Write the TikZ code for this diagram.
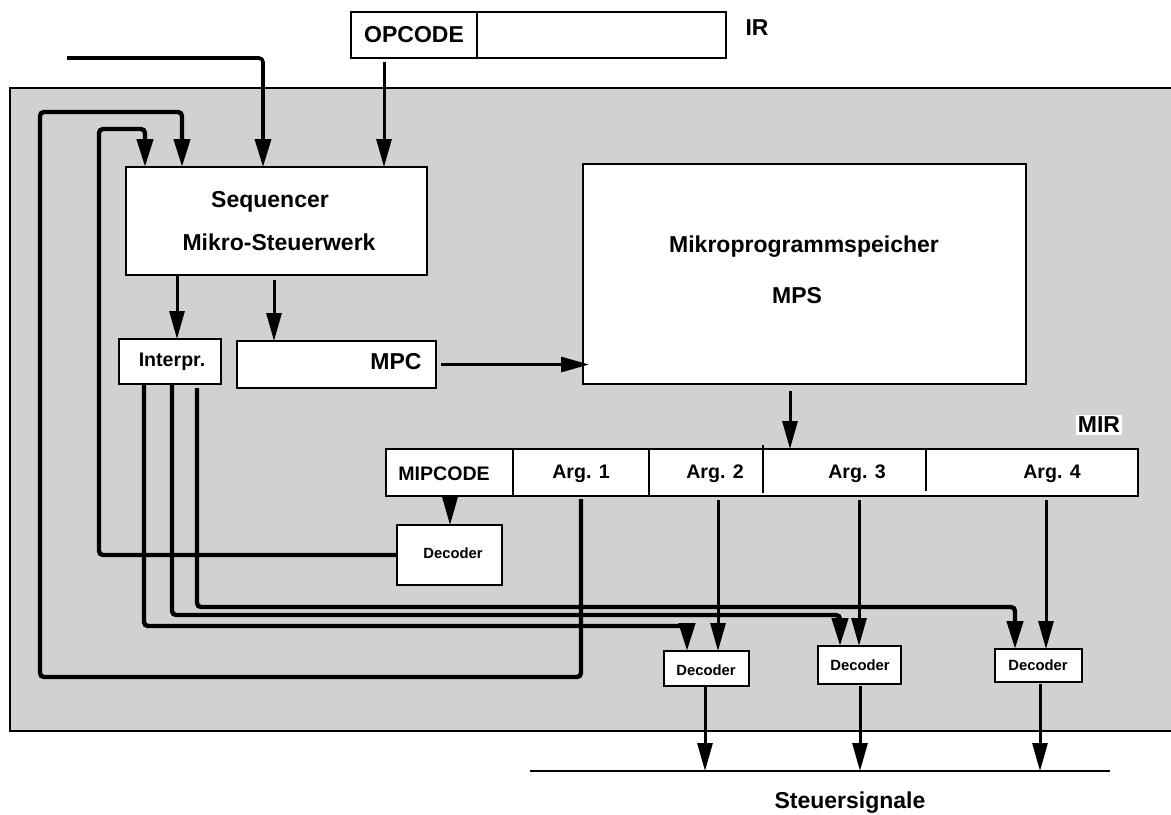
\documentclass[tikz,border=0pt]{standalone}
\usepackage{fontspec}
\setmainfont{Liberation Sans}
\usetikzlibrary{arrows.meta}
\begin{document}
\begin{tikzpicture}[x=0.5pt,y=-0.5pt,
  box/.style={draw,line width=1pt,fill=white,inner sep=0pt,outer sep=0pt,anchor=north west},
  lbl/.style={inner sep=0pt,font=\bfseries\fontsize{11.5}{13}\selectfont},
  mlbl/.style={inner sep=0pt,font=\bfseries\fontsize{9.8}{11}\selectfont},
  slbl/.style={inner sep=0pt,font=\bfseries\fontsize{7.4}{9}\selectfont},
  arr/.style={line width=1.5pt,-{Triangle[length=14pt,width=7.5pt]}},
  bus/.style={line width=2.2pt,rounded corners=2pt,-{Triangle[length=14pt,width=8pt]}},
  thin/.style={line width=0.6pt}]
\useasboundingbox (0,0) rectangle (1171,814);
% background
\fill[black!18] (10,88) rectangle (1171,731);
\draw[line width=0.8pt] (1171,88) -- (10,88) -- (10,731) -- (1171,731);
% IR
\node[box,minimum width=63pt,minimum height=23pt] (irop) at (351,12) {};
\node[lbl] (iroptxt) at (414,35) {OPCODE};
\node[box,minimum width=124.5pt,minimum height=23pt] (irrest) at (477,12) {};
\node[lbl] (irlbl) at (757,28) {IR};
% Sequencer
\node[box,minimum width=150.5pt,minimum height=54pt] (seq) at (126,167) {};
\node[lbl] (seqt1) at (270,202) {Sequencer};
\node[lbl] (seqt2) at (279,242) {Mikro-Steuerwerk};
% Interpr / MPC
\node[box,minimum width=51pt,minimum height=22.5pt] (interp) at (119,339) {};
\node[mlbl] (interpt) at (172,362) {Interpr.};
\node[box,minimum width=99.5pt,minimum height=23.5pt] (mpc) at (237,341) {};
\node[lbl] (mpct) at (396,362) {MPC};
% MPS
\node[box,minimum width=221.5pt,minimum height=110pt] (mps) at (583,164) {};
\node[lbl] (mpst1) at (804,247) {Mikroprogrammspeicher};
\node[lbl] (mpst2) at (797,296) {MPS};
% MIR
\node[box,minimum width=376pt,minimum height=23.5pt] (mir) at (386,449) {};
\draw[thin] (513,449) -- (513,496);
\draw[thin] (649,449) -- (649,496);
\draw[thin] (763,445) -- (763,493);
\draw[thin] (926,449) -- (926,491);
\node[mlbl] (mt0) at (444,474) {MIPCODE};
\node[mlbl] (mt1) at (581,474) {Arg. 1};
\node[mlbl] (mt2) at (715,474) {Arg. 2};
\node[mlbl] (mt3) at (857,474) {Arg. 3};
\node[mlbl] (mt4) at (1052,474) {Arg. 4};
\node[lbl,fill=white,inner sep=1pt] (mirlbl) at (1099,425) {MIR};
% Decoders
\node[box,minimum width=52.5pt,minimum height=30pt] (dec0) at (397,525) {};
\node[slbl] (dec0t) at (453,553) {Decoder};
\node[box,minimum width=42.5pt,minimum height=17.5pt] (dec2) at (664,651) {};
\node[slbl] (dec2t) at (706,670) {Decoder};
\node[box,minimum width=41.5pt,minimum height=19pt] (dec3) at (818,646) {};
\node[slbl] (dec3t) at (860,665) {Decoder};
\node[box,minimum width=43.5pt,minimum height=16.5pt] (dec4) at (995,649) {};
\node[slbl] (dec4t) at (1038,665) {Decoder};
% signal line
\coordinate (sigL) at (530,771);
\coordinate (sigR) at (1110,771);
\draw[line width=0.8pt] (sigL) -- (sigR);
\node[lbl] (sigt) at (850,803) {Steuersignale};
% x helpers
\coordinate (xin) at (263,0);
\coordinate (xop) at (384,0);
\coordinate (x182) at (182,0);
\coordinate (x145) at (145,0);
\coordinate (x177) at (177,0);
\coordinate (x274) at (274,0);
\coordinate (x790) at (790,0);
\coordinate (x450) at (450,0);
\coordinate (xa1) at (581,0);
\coordinate (xa2) at (718,0);
\coordinate (xa3) at (859,0);
\coordinate (xa4) at (1046,0);
\coordinate (xi1) at (144,0);
\coordinate (xi2) at (172,0);
\coordinate (xi3) at (197,0);
\coordinate (xd2) at (687,0);
\coordinate (xd3) at (840,0);
\coordinate (xd4) at (1015,0);
\coordinate (xo2) at (705,0);
\coordinate (xo3) at (860,0);
\coordinate (xo4) at (1040,0);
\coordinate (inStart) at (67,58);
% input and opcode
\draw[bus,line width=1.8pt] (inStart) -| (xin |- seq.north);
\draw[arr] (xop |- irop.south) ++(0,4) -- (xop |- seq.north);
% loops to sequencer
\draw[bus] (xa1 |- mir.south) ++(0,3) |- (40,677) |- (182,112) -- (x182 |- seq.north);
\draw[bus] (dec0.west) -| (99,129) -| (x145 |- seq.north);
% sequencer outputs
\draw[arr] (x177 |- seq.south) -- (x177 |- interp.north);
\draw[arr] (x274 |- seq.south) ++(0,5) -- (x274 |- mpc.north);
\draw[arr] (mpc.east) ++(5,0) -- ([xshift=3pt]mpc.east -| mps.west);
\draw[arr] (x790 |- mps.south) ++(0,7) -- (x790 |- mir.north);
% interpreter lines
\draw[bus] (xi1 |- interp.south) |- (687,626) -- (xd2 |- dec2.north);
\draw[bus] (xi2 |- interp.south) |- (840,615) -- (xd3 |- dec3.north);
\draw[bus] (xi3 |- interp.south) ++(0,4) |- (1015,607) -- (xd4 |- dec4.north);
% MIR to decoders
\draw[arr] (x450 |- mir.south) ++(0,2) -- (x450 |- dec0.north);
\draw[arr] (xa2 |- mir.south) ++(0,4) -- (xa2 |- dec2.north);
\draw[arr] (xa3 |- mir.south) ++(0,4) -- (xa3 |- dec3.north);
\draw[arr] (xa4 |- mir.south) ++(0,4) -- (xa4 |- dec4.north);
% decoder outputs
\draw[arr] (xo2 |- dec2.south) -- (xo2 |- sigL);
\draw[arr] (xo3 |- dec3.south) ++(0,2) -- (xo3 |- sigL);
\draw[arr] (xo4 |- dec4.south) ++(0,2) -- (xo4 |- sigL);
\end{tikzpicture}
\end{document}
